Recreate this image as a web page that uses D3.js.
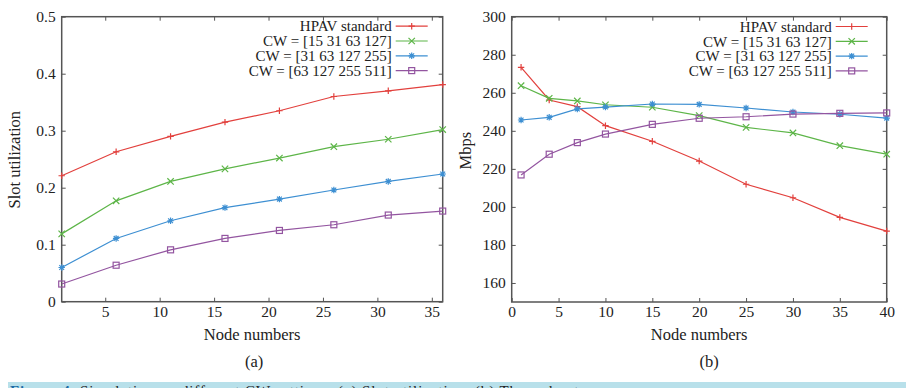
<!DOCTYPE html>
<html>
<head>
<meta charset="utf-8">
<script src="https://cdn.jsdelivr.net/npm/d3@7"></script>
<style>
    body { margin: 0; background: #fff; }
    svg text { font-family: "Liberation Serif", "Times New Roman", "DejaVu Serif", serif !important; }
    .tick line { stroke: #555; }
    .tick text { fill: #222; font-size: 15.5px; }
</style>
</head>
<body>
<div id="chart"></div>
<script>
// series names shared by both panels
const seriesNames = ["HPAV standard", "CW = [15 31 63 127]", "CW = [31 63 127 255]", "CW = [63 127 255 511]"];

// panel (a): slot utilization vs node numbers
const nodesA = [1, 6, 11, 16, 21, 26, 31, 36];
const slotHPAV = [0.221, 0.263, 0.290, 0.315, 0.335, 0.360, 0.370, 0.381];
const slotCW15 = [0.119, 0.177, 0.211, 0.233, 0.252, 0.272, 0.285, 0.302];
const slotCW31 = [0.060, 0.111, 0.142, 0.165, 0.180, 0.196, 0.211, 0.224];
const slotCW63 = [0.031, 0.064, 0.091, 0.111, 0.125, 0.135, 0.152, 0.159];
const xTicksA = [5, 10, 15, 20, 25, 30, 35];
const yTicksA = [0, 0.1, 0.2, 0.3, 0.4, 0.5];

// panel (b): throughput (Mbps) vs node numbers
const nodesB = [1, 4, 7, 10, 15, 20, 25, 30, 35, 40];
const mbpsHPAV = [273.4, 256.2, 252.7, 242.7, 234.5, 224.1, 211.9, 204.8, 194.5, 187.3];
const mbpsCW15 = [263.7, 257.1, 255.7, 253.7, 252.4, 248.0, 241.8, 238.9, 232.2, 227.7];
const mbpsCW31 = [245.7, 247.1, 251.5, 252.5, 254.1, 253.9, 252.0, 249.9, 248.7, 246.7];
const mbpsCW63 = [216.8, 227.7, 233.8, 238.3, 243.4, 246.6, 247.4, 248.8, 249.2, 249.4];
const xTicksB = [0, 5, 10, 15, 20, 25, 30, 35, 40];
const yTicksB = [160, 180, 200, 220, 240, 260, 280, 300];

const colors = ["#e2403d", "#5db548", "#3d8fd2", "#9355a0"];
const markers = ["plus", "cross", "star", "square"];

const W = 906, H = 388;
const svg = d3.select("#chart").append("svg")
    .attr("width", W)
    .attr("height", H);

function drawMarker(g, type, color) {
    const s = 3.2;
    if (type === "plus") {
        g.append("path").attr("d", `M${-s},0H${s}M0,${-s}V${s}`);
    } else if (type === "cross") {
        g.append("path").attr("d", `M${-s},${-s}L${s},${s}M${-s},${s}L${s},${-s}`);
    } else if (type === "star") {
        g.append("path").attr("d", `M${-s},0H${s}M0,${-s}V${s}M${-s*0.75},${-s*0.75}L${s*0.75},${s*0.75}M${-s*0.75},${s*0.75}L${s*0.75},${-s*0.75}`);
    } else {
        g.append("rect").attr("x", -3).attr("y", -3).attr("width", 6).attr("height", 6).attr("fill", "none");
    }
    g.selectAll("path, rect").attr("stroke", color).attr("stroke-width", 1.2);
}

function drawPanel(cfg) {
    const g = svg.append("g").attr("transform", `translate(${cfg.left},${cfg.top})`);
    const w = cfg.width, h = cfg.height;

    const x = d3.scaleLinear().domain(cfg.xDomain).range([0, w]);
    const y = d3.scaleLinear().domain(cfg.yDomain).range([h, 0]);

    // inward ticks, mirrored on top and right like gnuplot
    g.append("g")
        .attr("transform", `translate(0,${h})`)
        .call(d3.axisBottom(x).tickValues(cfg.xTicks).tickSize(-4).tickPadding(4))
        .call(a => a.select(".domain").remove());
    g.append("g")
        .call(d3.axisTop(x).tickValues(cfg.xTicks).tickSize(-4).tickFormat(""))
        .call(a => a.select(".domain").remove());
    g.append("g")
        .call(d3.axisLeft(y).tickValues(cfg.yTicks).tickSize(-4).tickPadding(6).tickFormat(cfg.yFormat))
        .call(a => a.select(".domain").remove());
    g.append("g")
        .attr("transform", `translate(${w},0)`)
        .call(d3.axisRight(y).tickValues(cfg.yTicks).tickSize(-4).tickFormat(""))
        .call(a => a.select(".domain").remove());

    g.append("rect")
        .attr("width", w)
        .attr("height", h)
        .attr("fill", "none")
        .attr("stroke", "#555")
        .attr("stroke-width", 1.5);

    const line = d3.line()
        .x(d => x(d[0]))
        .y(d => y(d[1]));

    cfg.series.forEach((vals, i) => {
        const pts = cfg.xs.map((n, j) => [n, vals[j]]);
        g.append("path")
            .datum(pts)
            .attr("fill", "none")
            .attr("stroke", colors[i])
            .attr("stroke-width", 1.2)
            .attr("d", line);
        pts.forEach(p => {
            const m = g.append("g").attr("transform", `translate(${x(p[0])},${y(p[1])})`);
            drawMarker(m, markers[i], colors[i]);
        });
    });

    // legend, text right-aligned with a short line sample
    const leg = g.append("g").attr("transform", `translate(${cfg.legendX},${cfg.legendY})`);
    seriesNames.forEach((name, i) => {
        const row = leg.append("g").attr("transform", `translate(0,${i * 14.8})`);
        row.append("text")
            .attr("x", 0)
            .attr("dy", "0.35em")
            .attr("text-anchor", "end")
            .style("font-size", "15px")
            .style("fill", "#222")
            .text(name);
        row.append("line")
            .attr("x1", 4).attr("x2", 36)
            .attr("stroke", colors[i])
            .attr("stroke-width", 1.2);
        drawMarker(row.append("g").attr("transform", "translate(20,0)"), markers[i], colors[i]);
    });

    // axis titles
    g.append("text")
        .attr("x", w / 2)
        .attr("y", h + 38)
        .attr("text-anchor", "middle")
        .style("font-size", "16.5px")
        .style("fill", "#222")
        .text("Node numbers");
    g.append("text")
        .attr("x", w / 2 + cfg.subDx)
        .attr("y", h + 65)
        .attr("text-anchor", "middle")
        .style("font-size", "16.5px")
        .style("fill", "#222")
        .text(cfg.sub);
    g.append("text")
        .attr("transform", `translate(${cfg.yTitleX},${cfg.yTitleY}) rotate(-90)`)
        .attr("text-anchor", "middle")
        .attr("dy", "0.35em")
        .style("font-size", "16.5px")
        .style("fill", "#222")
        .text(cfg.yTitle);
}

drawPanel({
    left: 61.7, top: 16.7, width: 381, height: 285,
    xDomain: [1, 36], yDomain: [0, 0.5],
    xTicks: xTicksA, yTicks: yTicksA,
    yFormat: d => d === 0 ? "0" : d3.format(".1f")(d),
    xs: nodesA,
    series: [slotHPAV, slotCW15, slotCW31, slotCW63],
    legendX: 330, legendY: 9.5,
    yTitle: "Slot utilization", yTitleX: -47, yTitleY: 143,
    sub: "(a)", subDx: 2
});

drawPanel({
    left: 511.7, top: 16.7, width: 375, height: 285.3,
    xDomain: [0, 40], yDomain: [150, 300],
    xTicks: xTicksB, yTicks: yTicksB,
    yFormat: d3.format("d"),
    xs: nodesB,
    series: [mbpsHPAV, mbpsCW15, mbpsCW31, mbpsCW63],
    legendX: 320, legendY: 9.8,
    yTitle: "Mbps", yTitleX: -46, yTitleY: 134,
    sub: "(b)", subDx: 10
});

// figure caption strip, mostly cut off by the bottom edge as in the source
const cap = svg.append("g");
cap.append("rect")
    .attr("x", 8).attr("y", 382)
    .attr("width", W - 8).attr("height", 10)
    .attr("fill", "#b8e0ea");
const capText = cap.append("text")
    .attr("x", 10).attr("y", 396)
    .style("font-size", "15px")
    .style("letter-spacing", "0.9px");
capText.append("tspan").style("fill", "#1b6aa5").style("font-weight", "bold").text("Figure 4. ");
capText.append("tspan").style("fill", "#222").text("Simulation on different CW settings: (a) Slot utilization; (b) Throughput.");
</script>
</body>
</html>
